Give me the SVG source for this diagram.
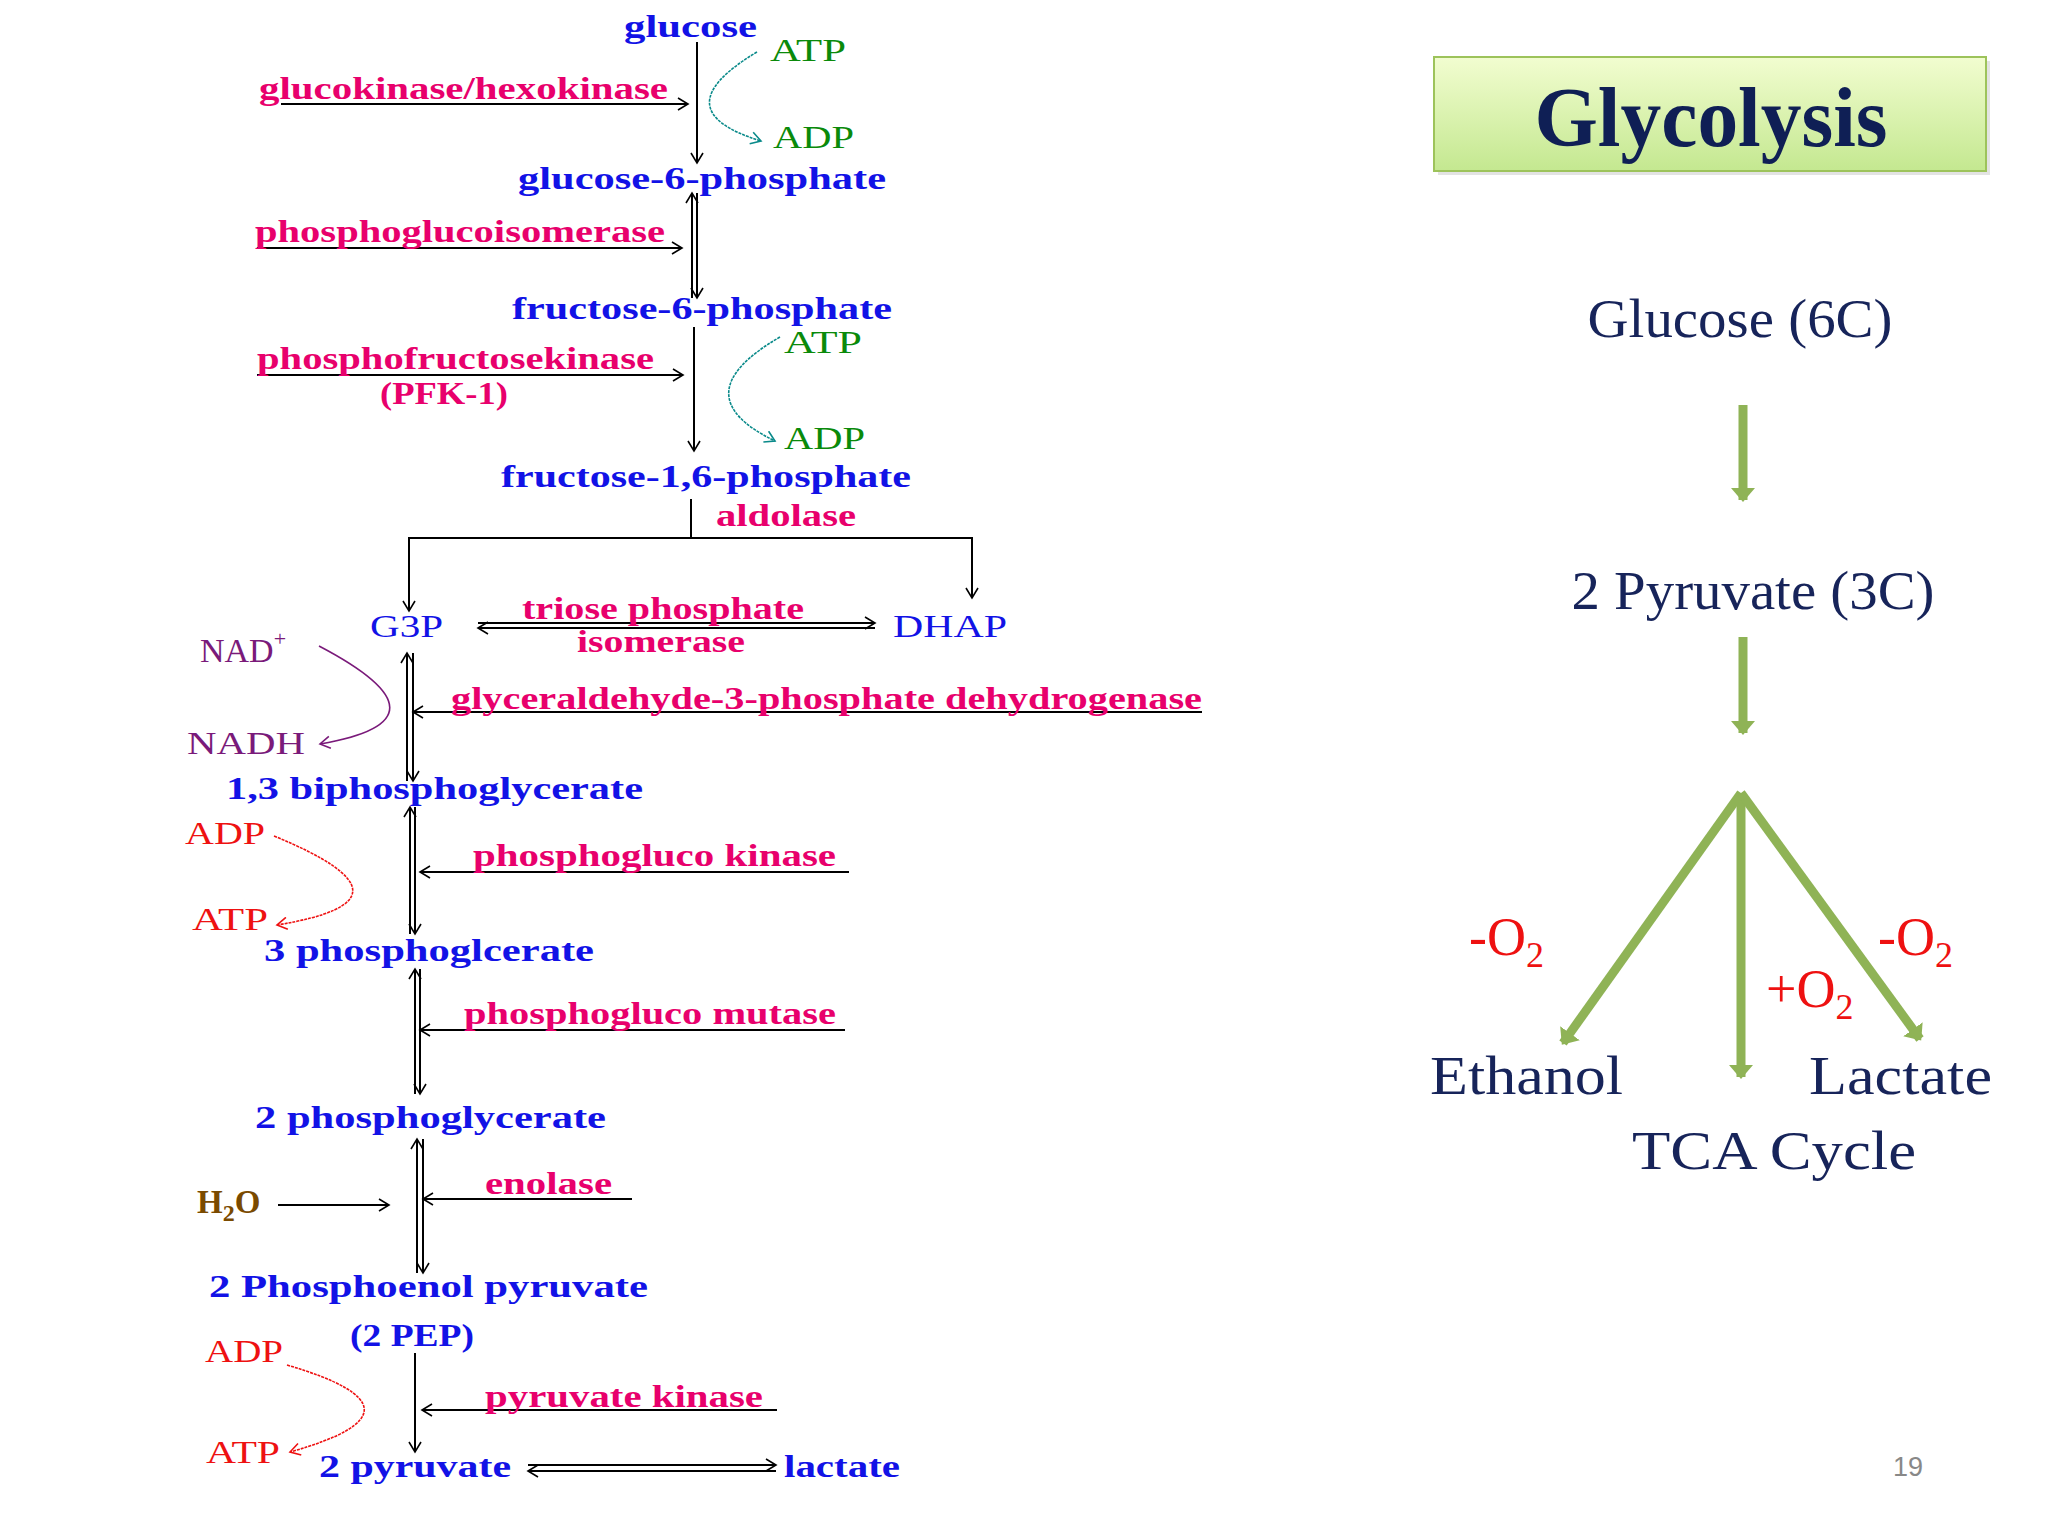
<svg xmlns="http://www.w3.org/2000/svg" width="2048" height="1536" viewBox="0 0 2048 1536">
<defs>
<style>
text{font-family:"Liberation Serif",serif}
.m{font-size:31px;font-weight:bold;fill:#1212e6}
.e{font-size:31px;font-weight:bold;fill:#e8006c}
.g{font-size:31px;fill:#0a8a0a}
.p{font-size:31px;fill:#7a1a7a}
.r{font-size:31px;fill:#ee1111}
.ln{stroke:#000;stroke-width:2;fill:none}
.t{fill:#17245a;font-size:54px}
.o{fill:#ee1111;font-size:54px}
.ga{stroke:#8fb356;stroke-width:9;fill:none}
</style>
<marker id="a" markerWidth="14" markerHeight="14" refX="12" refY="7" orient="auto" markerUnits="userSpaceOnUse"><path d="M2,1 L12,7 L2,13" fill="none" stroke="#000" stroke-width="1.6"/></marker>
<marker id="at" markerWidth="14" markerHeight="14" refX="12" refY="7" orient="auto" markerUnits="userSpaceOnUse"><path d="M2,1 L12,7 L2,13" fill="none" stroke="#0a8a8a" stroke-width="1.6"/></marker>
<marker id="ap" markerWidth="14" markerHeight="14" refX="12" refY="7" orient="auto" markerUnits="userSpaceOnUse"><path d="M2,1 L12,7 L2,13" fill="none" stroke="#7a1a7a" stroke-width="1.6"/></marker>
<marker id="ar" markerWidth="14" markerHeight="14" refX="12" refY="7" orient="auto" markerUnits="userSpaceOnUse"><path d="M2,1 L12,7 L2,13" fill="none" stroke="#ee1111" stroke-width="1.6"/></marker>
<marker id="ag" markerWidth="30" markerHeight="30" refX="12" refY="15" orient="auto" markerUnits="userSpaceOnUse"><path d="M0,3 L14,15 L0,27 Z" fill="#8fb356"/></marker>
<linearGradient id="bx" x1="0" y1="0" x2="0" y2="1"><stop offset="0" stop-color="#f2fdd0"/><stop offset="1" stop-color="#c4e890"/></linearGradient>
</defs>
<rect width="2048" height="1536" fill="#fff"/>

<g id="connectors">
<line class="ln" x1="697" y1="42" x2="697" y2="163" marker-end="url(#a)"/>
<line class="ln" x1="281" y1="104" x2="688" y2="104" marker-end="url(#a)"/>
<path d="M757,52 Q660,110 761,141" stroke="#0a8a8a" stroke-width="1.6" fill="none" stroke-dasharray="3,1" marker-end="url(#at)"/>
<line class="ln" x1="692" y1="298" x2="692" y2="193" marker-end="url(#a)"/>
<line class="ln" x1="697" y1="193" x2="697" y2="298" marker-end="url(#a)"/>
<line class="ln" x1="257" y1="248" x2="682" y2="248" marker-end="url(#a)"/>
<line class="ln" x1="694" y1="327" x2="694" y2="451" marker-end="url(#a)"/>
<line class="ln" x1="257" y1="375" x2="683" y2="375" marker-end="url(#a)"/>
<path d="M780,337 Q680,395 775,441" stroke="#0a8a8a" stroke-width="1.6" fill="none" stroke-dasharray="3,1" marker-end="url(#at)"/>
<line class="ln" x1="691" y1="499" x2="691" y2="538"/>
<polyline class="ln" points="409,611 409,538 972,538 972,598" stroke-width="2.5"/>
<line class="ln" x1="409" y1="560" x2="409" y2="611" marker-end="url(#a)"/>
<line class="ln" x1="972" y1="560" x2="972" y2="598" marker-end="url(#a)"/>
<line class="ln" x1="478" y1="623" x2="875" y2="623" stroke-width="2.5" marker-end="url(#a)"/>
<line class="ln" x1="875" y1="628" x2="478" y2="628" stroke-width="2.5" marker-end="url(#a)"/>
<line class="ln" x1="407" y1="781" x2="407" y2="653" marker-end="url(#a)"/>
<line class="ln" x1="413" y1="653" x2="413" y2="781" marker-end="url(#a)"/>
<line class="ln" x1="1202" y1="712" x2="413" y2="712" stroke-width="2.5" marker-end="url(#a)"/>
<path d="M319,646 Q460,720 320,744" stroke="#7a1a7a" stroke-width="1.6" fill="none" marker-end="url(#ap)"/>
<line class="ln" x1="410" y1="934" x2="410" y2="807" marker-end="url(#a)"/>
<line class="ln" x1="415" y1="807" x2="415" y2="934" marker-end="url(#a)"/>
<line class="ln" x1="849" y1="872" x2="420" y2="872" stroke-width="2.5" marker-end="url(#a)"/>
<path d="M274,836 Q430,900 277,925" stroke="#ee1111" stroke-width="1.6" fill="none" stroke-dasharray="3,1" marker-end="url(#ar)"/>
<line class="ln" x1="415" y1="1094" x2="415" y2="969" marker-end="url(#a)"/>
<line class="ln" x1="420" y1="969" x2="420" y2="1094" marker-end="url(#a)"/>
<line class="ln" x1="845" y1="1030" x2="420" y2="1030" stroke-width="2.5" marker-end="url(#a)"/>
<line class="ln" x1="417" y1="1273" x2="417" y2="1139" marker-end="url(#a)"/>
<line class="ln" x1="423" y1="1139" x2="423" y2="1273" marker-end="url(#a)"/>
<line class="ln" x1="278" y1="1205" x2="389" y2="1205" stroke-width="2.5" marker-end="url(#a)"/>
<line class="ln" x1="632" y1="1199" x2="423" y2="1199" stroke-width="2.5" marker-end="url(#a)"/>
<line class="ln" x1="415" y1="1353" x2="415" y2="1452" marker-end="url(#a)"/>
<line class="ln" x1="777" y1="1410" x2="422" y2="1410" stroke-width="2.5" marker-end="url(#a)"/>
<path d="M287,1365 Q440,1410 290,1452" stroke="#ee1111" stroke-width="1.6" fill="none" stroke-dasharray="3,1" marker-end="url(#ar)"/>
<line class="ln" x1="528" y1="1465" x2="776" y2="1465" stroke-width="2.5" marker-end="url(#a)"/>
<line class="ln" x1="776" y1="1471" x2="528" y2="1471" stroke-width="2.5" marker-end="url(#a)"/>

<line class="ga" x1="1743" y1="405" x2="1743" y2="500" marker-end="url(#ag)"/>
<line class="ga" x1="1743" y1="637" x2="1743" y2="733" marker-end="url(#ag)"/>
<line class="ga" x1="1741" y1="793" x2="1563" y2="1043" marker-end="url(#ag)"/>
<line class="ga" x1="1741" y1="793" x2="1741" y2="1077" marker-end="url(#ag)"/>
<line class="ga" x1="1741" y1="793" x2="1920" y2="1039" marker-end="url(#ag)"/>
</g>

<g id="left-labels">
<text class="m" x="624" y="37" textLength="133" lengthAdjust="spacingAndGlyphs">glucose</text>
<text class="g" x="770" y="61" textLength="76" lengthAdjust="spacingAndGlyphs">ATP</text>
<text class="g" x="773" y="148" textLength="81" lengthAdjust="spacingAndGlyphs">ADP</text>
<text class="e" x="259" y="99" textLength="409" lengthAdjust="spacingAndGlyphs">glucokinase/hexokinase</text>
<text class="m" x="518" y="189" textLength="368" lengthAdjust="spacingAndGlyphs">glucose-6-phosphate</text>
<text class="e" x="255" y="242" textLength="410" lengthAdjust="spacingAndGlyphs">phosphoglucoisomerase</text>
<text class="m" x="512" y="319" textLength="380" lengthAdjust="spacingAndGlyphs">fructose-6-phosphate</text>
<text class="g" x="784" y="353" textLength="78" lengthAdjust="spacingAndGlyphs">ATP</text>
<text class="g" x="784" y="449" textLength="81" lengthAdjust="spacingAndGlyphs">ADP</text>
<text class="e" x="257" y="369" textLength="397" lengthAdjust="spacingAndGlyphs">phosphofructosekinase</text>
<text class="e" x="380" y="404" textLength="128" lengthAdjust="spacingAndGlyphs">(PFK-1)</text>
<text class="m" x="501" y="487" textLength="410" lengthAdjust="spacingAndGlyphs">fructose-1,6-phosphate</text>
<text class="e" x="716" y="526" textLength="140" lengthAdjust="spacingAndGlyphs">aldolase</text>
<text class="m" x="370" y="637" style="font-weight:normal" textLength="73" lengthAdjust="spacingAndGlyphs">G3P</text>
<text class="m" x="893" y="637" style="font-weight:normal" textLength="114" lengthAdjust="spacingAndGlyphs">DHAP</text>
<text class="e" x="522" y="619" textLength="282" lengthAdjust="spacingAndGlyphs">triose phosphate</text>
<text class="e" x="577" y="652" textLength="168" lengthAdjust="spacingAndGlyphs">isomerase</text>
<text class="p" x="200" y="662" style="font-size:34px">NAD<tspan style="font-size:22px" dy="-16">+</tspan></text>
<text class="p" x="187" y="754" textLength="118" lengthAdjust="spacingAndGlyphs">NADH</text>
<text class="e" x="451" y="709" textLength="751" lengthAdjust="spacingAndGlyphs">glyceraldehyde-3-phosphate dehydrogenase</text>
<text class="m" x="226" y="799" textLength="417" lengthAdjust="spacingAndGlyphs">1,3 biphosphoglycerate</text>
<text class="r" x="185" y="844" textLength="80" lengthAdjust="spacingAndGlyphs">ADP</text>
<text class="r" x="192" y="930" textLength="76" lengthAdjust="spacingAndGlyphs">ATP</text>
<text class="e" x="473" y="866" textLength="363" lengthAdjust="spacingAndGlyphs">phosphogluco kinase</text>
<text class="m" x="264" y="961" textLength="330" lengthAdjust="spacingAndGlyphs">3 phosphoglcerate</text>
<text class="e" x="464" y="1024" textLength="372" lengthAdjust="spacingAndGlyphs">phosphogluco mutase</text>
<text class="m" x="255" y="1128" textLength="351" lengthAdjust="spacingAndGlyphs">2 phosphoglycerate</text>
<text x="197" y="1213" style="font-size:33px;font-weight:bold" fill="#7a4a00">H<tspan style="font-size:24px" dy="8">2</tspan><tspan dy="-8">O</tspan></text>
<text class="e" x="485" y="1194" textLength="127" lengthAdjust="spacingAndGlyphs">enolase</text>
<text class="m" x="209" y="1297" textLength="439" lengthAdjust="spacingAndGlyphs">2 Phosphoenol pyruvate</text>
<text class="m" x="350" y="1346" textLength="124" lengthAdjust="spacingAndGlyphs">(2 PEP)</text>
<text class="r" x="205" y="1362" textLength="78" lengthAdjust="spacingAndGlyphs">ADP</text>
<text class="r" x="206" y="1463" textLength="74" lengthAdjust="spacingAndGlyphs">ATP</text>
<text class="e" x="485" y="1407" textLength="278" lengthAdjust="spacingAndGlyphs">pyruvate kinase</text>
<text class="m" x="319" y="1477" textLength="192" lengthAdjust="spacingAndGlyphs">2 pyruvate</text>
<text class="m" x="784" y="1477" textLength="116" lengthAdjust="spacingAndGlyphs">lactate</text>
</g>

<g id="title">
<rect x="1438" y="61" width="552" height="114" fill="#d0d0d0" opacity="0.6"/>
<rect x="1434" y="57" width="552" height="114" fill="url(#bx)" stroke="#9dc35b" stroke-width="2"/>
<text x="1711" y="146" text-anchor="middle" style="font-size:84px;font-weight:bold" fill="#0f1f55" textLength="353" lengthAdjust="spacingAndGlyphs">Glycolysis</text>
</g>
<g id="glucose6c"><text class="t" x="1740" y="337" text-anchor="middle" textLength="305" lengthAdjust="spacingAndGlyphs">Glucose (6C)</text></g>
<g id="pyruvate3c"><text class="t" x="1753" y="609" text-anchor="middle" textLength="363" lengthAdjust="spacingAndGlyphs">2 Pyruvate (3C)</text></g>
<g id="ethanol"><text class="t" x="1430" y="1094" textLength="193" lengthAdjust="spacingAndGlyphs">Ethanol</text></g>
<g id="lactate"><text class="t" x="1809" y="1094" textLength="183" lengthAdjust="spacingAndGlyphs">Lactate</text></g>
<g id="tca"><text class="t" x="1632" y="1169" textLength="284" lengthAdjust="spacingAndGlyphs">TCA Cycle</text></g>
<g id="o2labels">
<text class="o" x="1469" y="955">-O<tspan style="font-size:36px" dy="12">2</tspan></text>
<text class="o" x="1766" y="1007">+O<tspan style="font-size:36px" dy="12">2</tspan></text>
<text class="o" x="1878" y="955">-O<tspan style="font-size:36px" dy="12">2</tspan></text>
</g>
<text x="1893" y="1476" style="font-family:'Liberation Sans',sans-serif;font-size:27px" fill="#888">19</text>
</svg>
